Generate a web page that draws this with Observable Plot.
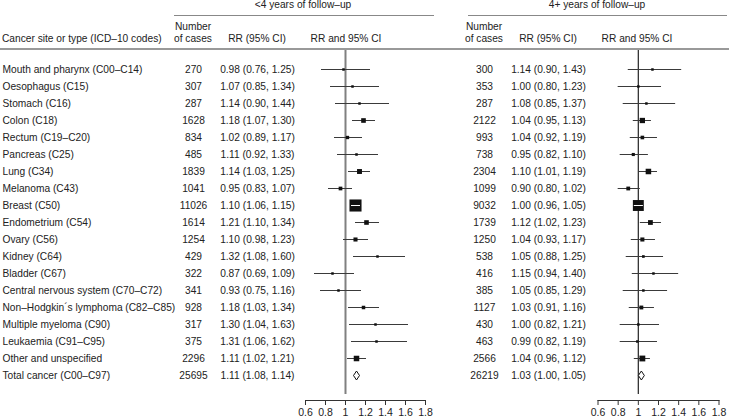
<!DOCTYPE html>
<html>
<head>
<meta charset="utf-8">
<script src="https://cdn.jsdelivr.net/npm/d3@7"></script>
<script src="https://cdn.jsdelivr.net/npm/@observablehq/plot@0.6"></script>
<style>
  html, body { margin: 0; padding: 0; background: #fff; }
  #chart { position: relative; width: 729px; height: 418px; overflow: hidden;
           font-family: "Liberation Sans", Arial, sans-serif; font-size: 10.2px; color: #222; }
  #chart > svg, #chart > .pl { position: absolute; top: 0; }
  .hd { position: absolute; line-height: 12px; white-space: nowrap; }
  .c { transform: translateX(-50%); }
  .ln { position: absolute; }
</style>
</head>
<body>
<div id="chart"></div>
<script>
// ---- data ----
const categories = [
  "Mouth and pharynx (C00–C14)", "Oesophagus (C15)", "Stomach (C16)", "Colon (C18)",
  "Rectum (C19–C20)", "Pancreas (C25)", "Lung (C34)", "Melanoma (C43)", "Breast (C50)",
  "Endometrium (C54)", "Ovary (C56)", "Kidney (C64)", "Bladder (C67)",
  "Central nervous system (C70–C72)", "Non–Hodgkin´s lymphoma (C82–C85)",
  "Multiple myeloma (C90)", "Leukaemia (C91–C95)", "Other and unspecified",
  "Total cancer (C00–C97)"
];
const casesEarly = [270, 307, 287, 1628, 834, 485, 1839, 1041, 11026, 1614, 1254, 429, 322, 341, 928, 317, 375, 2296, 25695];
const rrEarly = [0.98, 1.07, 1.14, 1.18, 1.02, 1.11, 1.14, 0.95, 1.10, 1.21, 1.10, 1.32, 0.87, 0.93, 1.18, 1.30, 1.31, 1.11, 1.11];
const loEarly = [0.76, 0.85, 0.90, 1.07, 0.89, 0.92, 1.03, 0.83, 1.06, 1.10, 0.98, 1.08, 0.69, 0.75, 1.03, 1.04, 1.06, 1.02, 1.08];
const hiEarly = [1.25, 1.34, 1.44, 1.30, 1.17, 1.33, 1.25, 1.07, 1.15, 1.34, 1.23, 1.60, 1.09, 1.16, 1.34, 1.63, 1.62, 1.21, 1.14];

const casesLate = [300, 353, 287, 2122, 993, 738, 2304, 1099, 9032, 1739, 1250, 538, 416, 385, 1127, 430, 463, 2566, 26219];
const rrLate = [1.14, 1.00, 1.08, 1.04, 1.04, 0.95, 1.10, 0.90, 1.00, 1.12, 1.04, 1.05, 1.15, 1.05, 1.03, 1.00, 0.99, 1.04, 1.03];
const loLate = [0.90, 0.80, 0.85, 0.95, 0.92, 0.82, 1.01, 0.80, 0.96, 1.02, 0.93, 0.88, 0.94, 0.85, 0.91, 0.82, 0.82, 0.96, 1.00];
const hiLate = [1.43, 1.23, 1.37, 1.13, 1.19, 1.10, 1.19, 1.02, 1.05, 1.23, 1.17, 1.25, 1.40, 1.29, 1.16, 1.21, 1.19, 1.12, 1.05];

const tickValues = [0.6, 0.8, 1, 1.2, 1.4, 1.6, 1.8];
const xDomain = [0.6, 1.8];

// ---- layout ----
const H = 418;
const yRange = [59, 384];
const font = {fontFamily: "'Liberation Sans', Arial, sans-serif", fontSize: "10.2px", color: "#222", background: "transparent", overflow: "visible"};
const chart = document.getElementById("chart");

function mkRows(cases, rr, lo, hi) {
  return categories.map((cat, i) => ({cat, n: cases[i], rr: rr[i], lo: lo[i], hi: hi[i], total: i === categories.length - 1}));
}
const early = mkRows(casesEarly, rrEarly, loEarly, hiEarly);
const late = mkRows(casesLate, rrLate, loLate, hiLate);

const yScale = {type: "point", domain: categories, range: yRange, axis: null};

function place(svg, left) {
  svg.style.left = left + "px";
  svg.classList.add("pl");
  chart.appendChild(svg);
}

function textColumn(rows, textFn, left, width, anchor) {
  const svg = Plot.plot({
    width, height: H, margin: 0, marginLeft: anchor === "left" ? 2 : 0,
    style: font,
    y: yScale,
    marks: [
      Plot.text(rows, {y: "cat", text: textFn, frameAnchor: anchor, textAnchor: anchor === "left" ? "start" : "middle", fill: "#222"})
    ]
  });
  place(svg, left);
}

const boxSide = d => Math.max(2.5, 0.115 * Math.sqrt(d.n));
const diamond = {
  draw(ctx) {
    ctx.moveTo(0, -4.5); ctx.lineTo(3, 0); ctx.lineTo(0, 4.5); ctx.lineTo(-3, 0); ctx.closePath();
  }
};

function forest(rows, left, width, mL, mR, refStroke, refWidth) {
  const pxPerUnit = (width - mL - mR) / (xDomain[1] - xDomain[0]);
  const est = rows.filter(d => !d.total);
  const inside = est.filter(d => (d.hi - d.lo) * pxPerUnit < boxSide(d));
  const svg = Plot.plot({
    width, height: H, marginLeft: mL, marginRight: mR, marginTop: 48, marginBottom: 18,
    style: {...font, fontSize: "10.5px"},
    x: {domain: xDomain},
    y: yScale,
    r: {type: "identity"},
    marks: [
      Plot.ruleX([1], {stroke: refStroke, strokeWidth: refWidth, insetBottom: 6}),
      Plot.ruleY(est, {y: "cat", x1: "lo", x2: "hi", stroke: "#3a3a3a", strokeWidth: 1}),
      Plot.dot(est, {x: "rr", y: "cat", symbol: "square", fill: "#111", stroke: null, r: d => boxSide(d) / Math.sqrt(Math.PI)}),
      Plot.ruleY(inside, {y: "cat", x1: "lo", x2: "hi", stroke: "white", strokeWidth: 1}),
      Plot.dot(rows.filter(d => d.total), {x: "rr", y: "cat", symbol: diamond, fill: "white", stroke: "#111", strokeWidth: 1}),
      Plot.frame({anchor: "bottom", stroke: "#333"}),
      Plot.axisX(tickValues, {tickSize: 5, tickPadding: 3, label: null, stroke: "#333", fill: "#222",
        tickFormat: d => String(+d.toFixed(1))})
    ]
  });
  place(svg, left);
}

// columns
textColumn(early, "cat", 0, 175, "left");
textColumn(early, d => String(d.n), 163, 60, "middle");
textColumn(early, d => `${d.rr.toFixed(2)} (${d.lo.toFixed(2)}, ${d.hi.toFixed(2)})`, 217, 80, "middle");
forest(early, 280, 150, 25, 5, "#808080", 2);

textColumn(late, d => String(d.n), 454, 60, "middle");
textColumn(late, d => `${d.rr.toFixed(2)} (${d.lo.toFixed(2)}, ${d.hi.toFixed(2)})`, 508, 80, "middle");
forest(late, 580, 149, 17.5, 10.5, "#333", 1.3);

// headers
function hd(text, x, cy, centered) {
  const d = document.createElement("div");
  d.className = "hd" + (centered ? " c" : "");
  d.textContent = text;
  d.style.left = x + "px";
  d.style.top = (cy - 6) + "px";
  chart.appendChild(d);
}
function ln(x1, x2, y, w, color) {
  const d = document.createElement("div");
  d.className = "ln";
  d.style.left = x1 + "px"; d.style.width = (x2 - x1) + "px";
  d.style.top = (y - w / 2) + "px"; d.style.height = w + "px";
  d.style.background = color;
  chart.appendChild(d);
}
hd("<4 years of follow–up", 303, 5, true);
hd("4+ years of follow–up", 597, 5, true);
ln(174, 434, 15.5, 1, "#888");
ln(468, 727, 15.5, 1, "#888");
hd("Cancer site or type (ICD–10 codes)", 2, 39, false);
hd("Number", 193, 27, true); hd("of cases", 193, 39, true);
hd("RR (95% CI)", 257, 39, true);
hd("RR and 95% CI", 346, 39, true);
hd("Number", 484, 27, true); hd("of cases", 484, 39, true);
hd("RR (95% CI)", 548, 39, true);
hd("RR and 95% CI", 637, 39, true);
ln(0, 729, 48.5, 2, "#999");
</script>
</body>
</html>
